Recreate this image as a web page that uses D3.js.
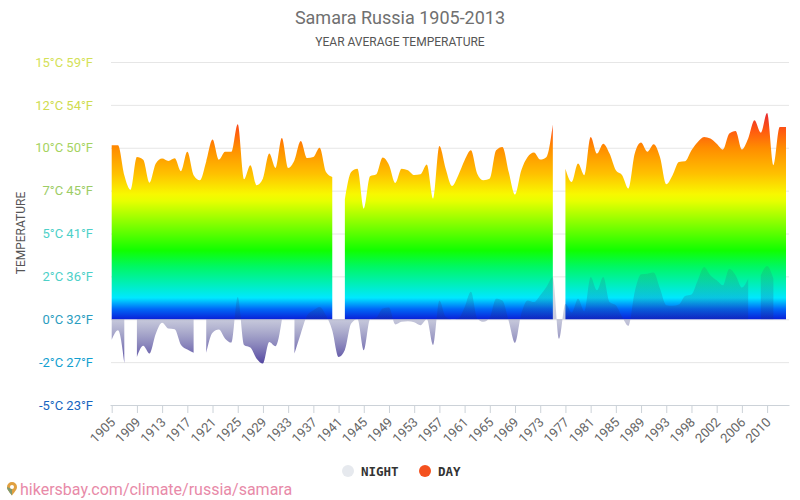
<!DOCTYPE html>
<html>
<head>
<meta charset="utf-8">
<script src="https://cdn.jsdelivr.net/npm/d3@7"></script>
<style>
html,body{margin:0;padding:0;background:#fff}
svg{display:block}
text{font-family:Roboto,sans-serif}
</style>
</head>
<body>
<svg id="c" width="800" height="500"></svg>
<script>
const years = [1905,1906,1907,1908,1909,1910,1911,1912,1913,1914,1915,1916,1917,1918,1919,1920,1921,1922,1923,1924,1925,1926,1927,1928,1929,1930,1931,1932,1933,1934,1935,1936,1937,1938,1939,1940,1941,1942,1943,1944,1945,1946,1947,1948,1949,1950,1951,1952,1953,1954,1955,1956,1957,1958,1959,1960,1961,1962,1963,1964,1965,1966,1967,1968,1969,1970,1971,1972,1973,1974,1975,1976,1977,1978,1979,1980,1981,1982,1983,1984,1985,1986,1987,1988,1989,1990,1991,1992,1993,1994,1995,1996,1998,1999,2000,2001,2002,2003,2004,2005,2006,2007,2008,2009,2010,2011,2012,2013];
const dayValues = [10.15,10.15,8.4,7.55,9.46,9.3,7.96,9.08,9.37,9.23,9.39,8.63,9.76,8.4,8.1,9.2,10.48,9.3,9.76,9.76,11.37,8.16,8.98,7.81,8.2,9.66,8.82,10.57,8.82,9.27,10.4,9.4,9.46,10.0,8.59,8.3,null,7.0,8.59,8.78,6.45,8.34,8.45,9.43,9.0,7.95,8.78,8.69,8.41,8.45,9.02,7.03,10.1,8.78,7.77,8.4,9.27,9.85,8.49,8.1,8.2,9.85,10.05,8.59,7.27,8.69,9.46,9.72,9.31,9.46,11.35,null,8.78,8.0,9.08,8.4,10.63,9.66,10.24,9.66,8.69,8.4,7.62,9.66,10.3,9.76,10.2,9.46,7.87,8.4,9.17,9.21,9.85,10.34,10.63,10.54,10.24,9.9,10.83,10.98,9.9,10.54,11.6,10.88,12.03,8.98,11.21,11.21];
const nightValues = [-1.19,-0.64,-2.55,null,-2.2,-1.55,-2.0,-0.84,-0.2,-0.54,-0.58,-1.5,-1.77,-1.96,null,-1.96,-0.78,-0.6,-1.13,-1.36,1.3,-1.5,-1.65,-2.3,-2.58,-1.32,-1.57,-0.05,null,-2.0,-0.84,0.2,0.52,0.72,0.23,-0.65,-2.2,-1.8,-0.25,0.0,-1.81,0.0,0.1,0.62,0.68,-0.3,-0.15,-0.12,-0.18,-0.35,0.0,-1.5,1.1,0.14,0.0,0.05,0.7,1.6,0.05,-0.15,0.1,1.2,1.1,-0.1,-1.38,0.33,1.1,1.0,1.4,1.9,2.45,-1.13,0.91,0.39,1.2,0.47,2.47,1.69,2.47,1.01,0.82,0.14,-0.39,1.6,2.62,2.66,2.72,1.79,0.82,0.78,0.86,1.36,1.44,2.27,3.05,2.57,2.27,1.98,2.95,2.57,1.85,2.37,null,2.57,3.11,2.37,null,null];
const tickYears = [1905,1909,1913,1917,1921,1925,1929,1933,1937,1941,1945,1949,1953,1957,1961,1965,1969,1973,1977,1981,1985,1989,1993,1998,2002,2006,2010];
const yTicks = [15,12.5,10,7.5,5,2.5,0,-2.5,-5];
const yLabels = ["15°C 59°F","12°C 54°F","10°C 50°F","7°C 45°F","5°C 41°F","2°C 36°F","0°C 32°F","-2°C 27°F","-5°C 23°F"];
const yLabelColors = ["#d4e157","#cfdc50","#a5d35f","#9ccc65","#4dd0c8","#4dd0c8","#2a9dc0","#12a0d0","#1565c0"];
const dayStopValues = [0,0.6,1.25,3.1,4,6.9,7.3,8.5,10,11,12];
const dayStopColors = ["#0a20d8","#0068f8","#00e8ff","#00f860","#10ff00","#e8ff00","#f8f800","#ffc000","#ff8c00","#ff5a10","#e82830"];

const svg = d3.select("#c");
const x = d3.scalePoint().domain(years).range([111.7,786]);
const y = d3.scaleLinear().domain([-5,15]).range([405,62]);

const defs = svg.append("defs");
const dayGrad = defs.append("linearGradient").attr("id","dayG")
  .attr("gradientUnits","userSpaceOnUse").attr("x1",0).attr("x2",0).attr("y1",y(0)).attr("y2",y(12));
dayStopValues.forEach((v,i)=>dayGrad.append("stop").attr("offset",v/12).attr("stop-color",dayStopColors[i]));
const nightGrad = defs.append("linearGradient").attr("id","nightG")
  .attr("gradientUnits","userSpaceOnUse").attr("x1",0).attr("x2",0).attr("y1",y(3.2)).attr("y2",y(-2.6));
[[0,"#406070",.14],[3.2/5.8,"#203080",.26],[3.21/5.8,"#787daa",.42],[1,"#4a3c9c",.95]]
  .forEach(s=>nightGrad.append("stop").attr("offset",s[0]).attr("stop-color",s[1]).attr("stop-opacity",s[2]));

// y axis and grid
const yAxis = svg.append("g").attr("transform","translate(111,0)")
  .call(d3.axisLeft(y).tickValues(yTicks).tickSize(-678).tickPadding(18).tickFormat((d,i)=>yLabels[i]));
yAxis.select(".domain").remove();
yAxis.selectAll("line").attr("stroke","#e6e6e6");
yAxis.selectAll("text").attr("font-size",13).attr("font-family","Roboto,sans-serif")
  .attr("fill",(d,i)=>yLabelColors[i]);

// x axis
const xAxis = svg.append("g").attr("transform","translate(0,405)")
  .call(d3.axisBottom(x).tickValues(tickYears).tickSize(8).tickSizeOuter(0));
xAxis.select(".domain").attr("stroke","#ccd2d8").attr("d","M110.5,0.5H789.5");
xAxis.selectAll("line").attr("stroke","#ccd2d8");
xAxis.selectAll("text").attr("font-size",13).attr("font-family","Roboto,sans-serif").attr("fill","#666")
  .attr("text-anchor","end").attr("y",0).attr("dy",0)
  .attr("transform","translate(4,18) rotate(-45)");

// areas
const dayArea = d3.area().defined(d=>d!==null)
  .x((d,i)=>x(years[i])).y0(y(0)).y1(d=>y(d)).curve(d3.curveMonotoneX);
svg.append("path").datum(dayValues).attr("d",dayArea).attr("fill","url(#dayG)");
const nightArea = d3.area().defined(d=>d!==null)
  .x((d,i)=>x(years[i])).y0(y(0)).y1(d=>y(d)).curve(d3.curveMonotoneX);
svg.append("path").datum(nightValues).attr("d",nightArea).attr("fill","url(#nightG)");

// titles
svg.append("text").attr("x",400).attr("y",24).attr("text-anchor","middle")
  .attr("font-size",18).attr("fill","#707070").text("Samara Russia 1905-2013");
svg.append("text").attr("x",400).attr("y",46).attr("text-anchor","middle")
  .attr("font-size",12).attr("fill","#555").text("YEAR AVERAGE TEMPERATURE");
svg.append("text").attr("transform","translate(25,233) rotate(-90)").attr("text-anchor","middle")
  .attr("font-size",12).attr("fill","#555").text("TEMPERATURE");

// legend
svg.append("circle").attr("cx",348).attr("cy",471).attr("r",6).attr("fill","#e6e9ee");
svg.append("text").attr("x",361).attr("y",476).attr("font-size",12.5).attr("font-weight","bold")
  .style("font-family","'DejaVu Sans Mono',monospace").attr("fill","#333").text("NIGHT");
svg.append("circle").attr("cx",425).attr("cy",471).attr("r",6).attr("fill","#f4511e");
svg.append("text").attr("x",438).attr("y",476).attr("font-size",12.5).attr("font-weight","bold")
  .style("font-family","'DejaVu Sans Mono',monospace").attr("fill","#333").text("DAY");

// footer
svg.append("path").attr("d","M12,482a5,5 0 0 1 5,5c0,3.2-3.2,5.6-5,8.5c-1.8-2.9-5-5.3-5-8.5a5,5 0 0 1 5-5z").attr("fill","#e0a040");
svg.append("path").attr("d","M12,495.5c-1.8-2.9-5-5.3-5-8.5l5,2z").attr("fill","#7f9a70");
svg.append("circle").attr("cx",12).attr("cy",487).attr("r",2).attr("fill","#fff");
svg.append("text").attr("x",20).attr("y",495).attr("font-size",16).attr("fill","#e88aa8")
  .text("hikersbay.com/climate/russia/samara");
</script>
</body>
</html>
